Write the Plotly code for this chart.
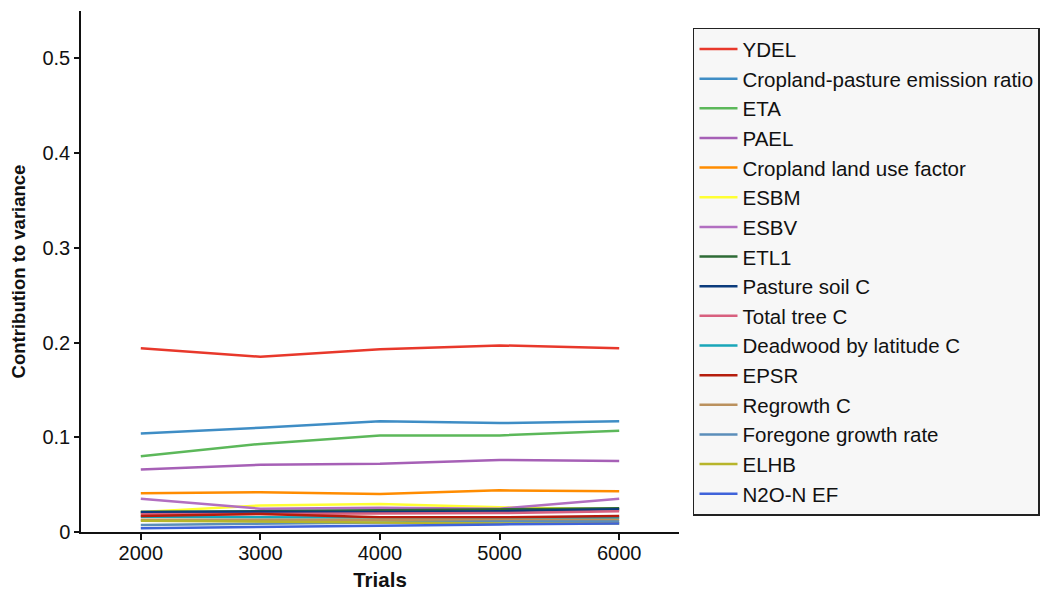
import plotly.graph_objects as go

trials = [2000, 3000, 4000, 5000, 6000]

names = ["YDEL", "Cropland-pasture emission ratio", "ETA", "PAEL", "Cropland land use factor",
         "ESBM", "ESBV", "ETL1", "Pasture soil C", "Total tree C", "Deadwood by latitude C",
         "EPSR", "Regrowth C", "Foregone growth rate", "ELHB", "N2O-N EF"]

ydel = [0.194, 0.185, 0.193, 0.197, 0.194]
cp_ratio = [0.104, 0.110, 0.117, 0.115, 0.117]
eta = [0.080, 0.093, 0.102, 0.102, 0.107]
pael = [0.066, 0.071, 0.072, 0.076, 0.075]
crop_luf = [0.041, 0.042, 0.040, 0.044, 0.043]
esbm = [0.021, 0.028, 0.0295, 0.026, 0.024]
esbv = [0.035, 0.0246, 0.0256, 0.0246, 0.035]
etl1 = [0.021, 0.022, 0.023, 0.024, 0.025]
pasture_soil = [0.021, 0.0215, 0.021, 0.022, 0.024]
total_tree = [0.0187, 0.019, 0.020, 0.020, 0.022]
deadwood = [0.016, 0.0155, 0.015, 0.015, 0.015]
epsr = [0.017, 0.019, 0.0155, 0.0155, 0.017]
regrowth = [0.013, 0.013, 0.0125, 0.013, 0.013]
foregone = [0.0074, 0.009, 0.010, 0.011, 0.011]
elhb = [0.012, 0.011, 0.010, 0.009, 0.009]
n2o = [0.004, 0.005, 0.0065, 0.008, 0.009]

series = [ydel, cp_ratio, eta, pael, crop_luf, esbm, esbv, etl1, pasture_soil,
          total_tree, deadwood, epsr, regrowth, foregone, elhb, n2o]

colors = ["#e8382b", "#3f8dc5", "#5cb85a", "#a660b6", "#ff8c00", "#ffff33", "#b26fc1",
          "#2e6b36", "#0b3b7c", "#d8607f", "#19a6b9", "#b51d0d", "#bb915e", "#5b8eba",
          "#b7b52b", "#3f63da"]

fig = go.Figure()
for n, s, c in zip(names, series, colors):
    fig.add_trace(go.Scatter(x=trials, y=s, mode="lines", name=n,
                             line=dict(color=c, width=2.5)))

FONT = "Liberation Sans, Arial, Helvetica, sans-serif"
# the page adds an 8px body margin, so the figure is sized/shifted to compensate
fig.update_layout(
    width=1045, height=584,
    margin=dict(l=73, r=374, t=3, b=60),
    paper_bgcolor="white", plot_bgcolor="white",
    font=dict(family=FONT, size=20, color="#111"),
    showlegend=True,
    legend=dict(x=1.0234, y=0.968, xanchor="left", yanchor="top",
                bgcolor="#f7f7f7", bordercolor="#222", borderwidth=1.5,
                font=dict(size=20.5, color="#111"), traceorder="normal",
                itemwidth=38, entrywidth=360, entrywidthmode="pixels"),
    xaxis=dict(range=[1500, 6500], tickvals=trials, ticks="outside", ticklen=6,
               tickwidth=1.5, tickcolor="#111", showline=True, linecolor="#111",
               linewidth=1.5, showgrid=False, zeroline=False, automargin=False,
               ticklabelstandoff=-4,
               title=dict(text="<b>Trials</b>", font=dict(size=20.5), standoff=10)),
    yaxis=dict(range=[0, 0.55], tickvals=[0, 0.1, 0.2, 0.3, 0.4, 0.5],
               ticktext=["0", "0.1", "0.2", "0.3", "0.4", "0.5"],
               ticks="outside", ticklen=5, tickwidth=1.5, tickcolor="#111",
               showline=True, linecolor="#111", linewidth=1.5, showgrid=False,
               zeroline=False, automargin=False,
               title=dict(text="<b>Contribution to variance</b>", font=dict(size=18.5), standoff=13)),
)

fig.write_html("out.html")
